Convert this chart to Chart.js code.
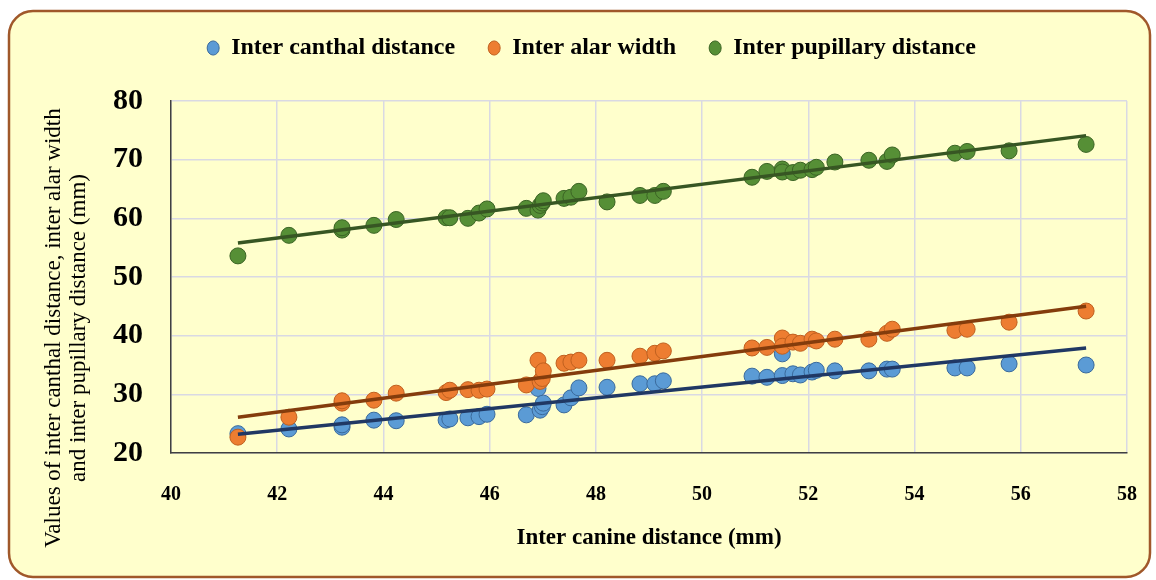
<!DOCTYPE html>
<html>
<head>
<meta charset="utf-8">
<script src="https://cdn.jsdelivr.net/npm/chart.js@4.4.0/dist/chart.umd.min.js"></script>
<style>
  html, body { margin: 0; padding: 0; background: #ffffff; }
  #wrap { width: 1156px; height: 580px; }
</style>
</head>
<body>
<div id="wrap"><canvas id="chart" width="1156" height="580"></canvas></div>
<script>
// inter canine distance (mm) for each subject
const canineX = [41.26, 42.22, 43.22, 43.22, 43.82, 44.24, 45.18, 45.25, 45.59, 45.80, 45.95,
  46.69, 46.91, 46.95, 46.99, 47.01, 47.40, 47.53, 47.68, 48.21, 48.83, 49.11, 49.27,
  50.94, 51.22, 51.51, 51.51, 51.71, 51.85, 52.07, 52.15, 52.50, 53.14, 53.48, 53.58,
  54.76, 54.99, 55.78, 57.23];
const canthal = [23.3, 24.1, 24.4, 24.8, 25.6, 25.5, 25.6, 25.8, 26.0, 26.2, 26.6,
  26.5, 31.0, 27.3, 27.9, 28.5, 28.2, 29.4, 31.1, 31.2, 31.8, 31.8, 32.3,
  33.1, 32.9, 36.9, 33.2, 33.5, 33.3, 33.8, 34.1, 34.0, 34.0, 34.3, 34.3,
  34.5, 34.5, 35.2, 35.0];
const alar = [22.7, 26.1, 28.5, 28.9, 29.0, 30.2, 30.3, 30.7, 30.8, 30.7, 30.9,
  31.6, 35.8, 32.2, 32.7, 34.0, 35.3, 35.5, 35.8, 35.8, 36.5, 37.0, 37.4,
  37.9, 38.0, 39.6, 38.2, 38.9, 38.7, 39.4, 39.1, 39.4, 39.4, 40.4, 41.1,
  40.9, 41.1, 42.3, 44.2];
const pupillary = [53.6, 57.1, 58.0, 58.4, 58.8, 59.8, 60.1, 60.1, 60.0, 60.9, 61.6,
  61.7, 61.4, 62.2, 62.6, 63.0, 63.4, 63.6, 64.6, 62.8, 63.9, 63.9, 64.6,
  67.0, 68.0, 68.4, 67.9, 67.8, 68.2, 68.3, 68.7, 69.6, 69.9, 69.7, 70.8,
  71.1, 71.4, 71.5, 72.6];

// linear trend line ends
const trendX = [41.26, 57.23];
const canthalTrend = [23.2, 37.9];
const alarTrend = [26.1, 45.0];
const pupillaryTrend = [55.8, 74.1];

const seriesNames = ["Inter canthal distance", "Inter alar width", "Inter pupillary distance"];

const toPoints = (xs, ys) => xs.map((x, i) => ({ x: x, y: ys[i] }));

const serif = "'Liberation Serif', 'Times New Roman', serif";

// card background with rounded brown border
const cardPlugin = {
  id: "card",
  beforeDraw(chart) {
    const ctx = chart.ctx;
    ctx.save();
    ctx.beginPath();
    ctx.roundRect(9, 11, 1141, 566, 24);
    ctx.fillStyle = "#ffffcc";
    ctx.fill();
    ctx.lineWidth = 2.5;
    ctx.strokeStyle = "#a0582a";
    ctx.stroke();
    ctx.restore();
  },
};

// two line y axis title, centred a little below the plot middle like the original
const yTitlePlugin = {
  id: "yTitle",
  afterDraw(chart) {
    const ctx = chart.ctx;
    ctx.save();
    ctx.translate(0, 328);
    ctx.rotate(-Math.PI / 2);
    ctx.font = "23px " + serif;
    ctx.fillStyle = "#000000";
    ctx.textAlign = "center";
    ctx.textBaseline = "middle";
    ctx.fillText("Values of inter canthal distance, inter alar width", 0, 54);
    ctx.fillText("and inter pupillary distance (mm)", 0, 79);
    ctx.restore();
  },
};

// make the legend box taller so the plot starts lower
const legendHeightPlugin = {
  id: "legendHeight",
  beforeInit(chart) {
    const fit = chart.legend.fit;
    chart.legend.fit = function () {
      fit.bind(chart.legend)();
      this.height = 98;
    };
  },
};

new Chart(document.getElementById("chart"), {
  type: "scatter",
  data: {
    datasets: [
      {
        label: "trend1",
        type: "line",
        data: toPoints(trendX, canthalTrend),
        borderColor: "#203864",
        borderWidth: 3.5,
        pointRadius: 0,
        order: 0,
      },
      {
        label: "trend2",
        type: "line",
        data: toPoints(trendX, alarTrend),
        borderColor: "#843c0c",
        borderWidth: 3.5,
        pointRadius: 0,
        order: 0,
      },
      {
        label: "trend3",
        type: "line",
        data: toPoints(trendX, pupillaryTrend),
        borderColor: "#375623",
        borderWidth: 3.5,
        pointRadius: 0,
        order: 0,
      },
      {
        label: seriesNames[0],
        data: toPoints(canineX, canthal),
        backgroundColor: "#5b9bd5",
        borderColor: "#3a6a9c",
        borderWidth: 1,
        pointRadius: 8,
        order: 3,
      },
      {
        label: seriesNames[1],
        data: toPoints(canineX, alar),
        backgroundColor: "#ed7d31",
        borderColor: "#c0601f",
        borderWidth: 1,
        pointRadius: 8,
        order: 2,
      },
      {
        label: seriesNames[2],
        data: toPoints(canineX, pupillary),
        backgroundColor: "#568f36",
        borderColor: "#3b6424",
        borderWidth: 1,
        pointRadius: 8,
        order: 1,
      },
    ],
  },
  options: {
    responsive: false,
    animation: false,
    layout: {
      padding: { left: 56, right: 29, top: 3, bottom: 10 },
    },
    plugins: {
      legend: {
        display: true,
        position: "top",
        labels: {
          filter: (item) => item.text.indexOf("trend") !== 0,
          sort: (a, b) => a.datasetIndex - b.datasetIndex,
          usePointStyle: true,
          pointStyle: "circle",
          boxHeight: 10,
          pointStyleWidth: 12,
          padding: 33,
          color: "#000000",
          font: { family: serif, size: 24, weight: "bold" },
        },
      },
      tooltip: { enabled: false },
    },
    scales: {
      x: {
        type: "linear",
        min: 40,
        max: 58,
        afterFit: (scale) => {
          scale.height = 117;
          scale.paddingLeft = 0;
          scale.paddingRight = 0;
        },
        border: { display: true, color: "#404040", width: 1.5 },
        grid: { color: "#d9d9e3", lineWidth: 1.5, drawTicks: false },
        ticks: {
          stepSize: 2,
          padding: 30,
          color: "#000000",
          font: { family: serif, size: 20, weight: "bold" },
        },
        title: {
          display: true,
          text: "Inter canine distance (mm)",
          color: "#000000",
          padding: { top: 0, bottom: 18 },
          font: { family: serif, size: 23, weight: "bold" },
        },
      },
      y: {
        type: "linear",
        min: 20,
        max: 80,
        afterFit: (scale) => {
          scale.width = 115;
        },
        border: { display: true, color: "#404040", width: 1.5 },
        grid: { color: "#d9d9e3", lineWidth: 1.5, drawTicks: false },
        ticks: {
          stepSize: 10,
          padding: 28,
          color: "#000000",
          font: { family: serif, size: 30, weight: "bold" },
        },
      },
    },
  },
  plugins: [cardPlugin, yTitlePlugin, legendHeightPlugin],
});
</script>
</body>
</html>
